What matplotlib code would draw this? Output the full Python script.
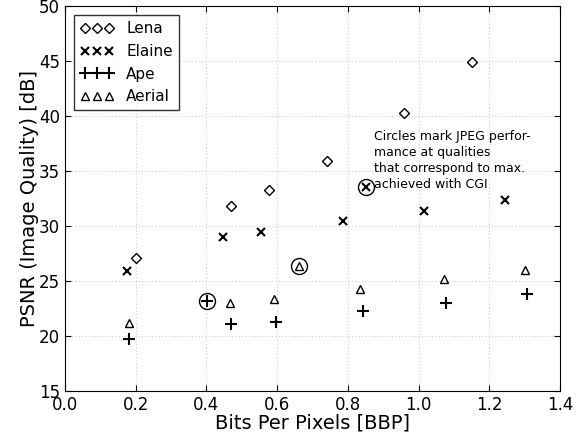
import numpy as np
import matplotlib
matplotlib.use('Agg')
import matplotlib.pyplot as plt

# bits per pixel / PSNR values
lena_bpp = [0.20, 0.47, 0.577, 0.74, 0.959, 1.15]
lena_psnr = [27.1, 31.85, 33.3, 35.95, 40.25, 44.95]

elaine_bpp = [0.174, 0.446, 0.554, 0.786, 0.851, 1.015, 1.244]
elaine_psnr = [25.9, 28.97, 29.5, 30.5, 33.57, 31.4, 32.36]

ape_bpp = [0.182, 0.403, 0.469, 0.598, 0.842, 1.078, 1.306]
ape_psnr = [19.7, 23.15, 21.06, 21.3, 22.25, 22.97, 23.8]

aerial_bpp = [0.182, 0.467, 0.590, 0.662, 0.833, 1.072, 1.302]
aerial_psnr = [21.15, 22.97, 23.4, 26.36, 24.3, 25.15, 26.0]

# JPEG points at qualities matching CGI max
circ_bpp = [0.403, 0.662, 0.851]
circ_psnr = [23.15, 26.36, 33.57]

note = ("Circles mark JPEG perfor-\nmance at qualities\n"
        "that correspond to max.\nachieved with CGI")

plt.rcParams['font.family'] = 'DejaVu Sans'
fig = plt.figure(figsize=(5.87, 4.36), dpi=100)
ax = fig.add_axes([0.1107, 0.1032, 0.8433, 0.8830])

ax.plot(lena_bpp, lena_psnr, 'D', ms=5.2, mfc='none', mec='k', mew=1.0, label='Lena')
ax.plot(elaine_bpp, elaine_psnr, 'x', ms=6, mec='k', mew=1.5, label='Elaine')
ax.plot(ape_bpp, ape_psnr, '+', ms=8, mec='k', mew=1.5, label='Ape')
ax.plot(aerial_bpp, aerial_psnr, '^', ms=6, mfc='none', mec='k', mew=1.0, label='Aerial')
ax.plot(circ_bpp, circ_psnr, 'o', ms=11.5, mfc='none', mec='k', mew=1.0)

ax.text(0.874, 38.75, note, fontsize=9, va='top', ha='left', linespacing=1.3)

ax.set_xlim(0, 1.4)
ax.set_ylim(15, 50)
ax.set_xticks(np.arange(0, 1.41, 0.2))
ax.set_yticks(np.arange(15, 51, 5))
ax.set_xlabel('Bits Per Pixels [BBP]', fontsize=14, labelpad=0)
ax.set_ylabel('PSNR (Image Quality) [dB]', fontsize=14, labelpad=0)
ax.tick_params(direction='in', top=True, right=True, labelsize=12, length=4)
ax.grid(True, color='0.7', linewidth=0.6, dashes=(1, 3))

leg = ax.legend(loc='upper left', numpoints=3, fontsize=11, fancybox=False,
                handlelength=2.2, borderaxespad=0.6)
leg.get_frame().set_edgecolor('k')
leg.get_frame().set_linewidth(1.0)

fig.savefig('out.png', dpi=100)
